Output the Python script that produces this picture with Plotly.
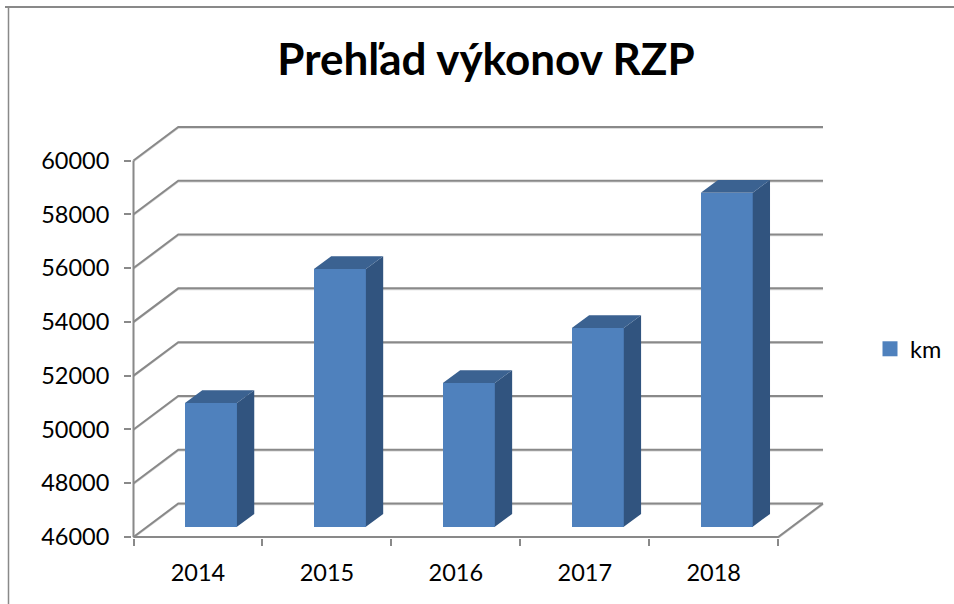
import plotly.graph_objects as go

# --- data ---
years = [2014, 2015, 2016, 2017, 2018]
km = [50600, 55580, 51340, 53390, 58420]
y_ticks = [46000, 48000, 50000, 52000, 54000, 56000, 58000, 60000]
title_text = "Prehľad výkonov RZP"
series_name = "km"

# --- geometry of the pseudo-3D look, in axis units ---
W, H = 954, 604
PX_X = 129.0            # pixels per category
PX_Y = 376.5 / 14000    # pixels per data unit
Y0, Y1 = y_ticks[0], y_ticks[-1]
X0, X1 = years[0] - 0.5, years[-1] + 0.5
BACK_X, BACK_Y = 44.8 / PX_X, 33.5 / PX_Y
FRONT_X, FRONT_Y = 13.0 / PX_X, 10.3 / PX_Y
SIDE_X, SIDE_Y = 17.3 / PX_X, 12.8 / PX_Y
BAR_W = 52.0 / PX_X
LEFT, RIGHT, TOP, BOTTOM = 132, 129, 125, 66
PAD_L, PAD_R = 1.5 / PX_X, 2 / PX_X
PAD_B, PAD_T = 1 / PX_Y, 2 / PX_Y
PLOT_W, PLOT_H = W - LEFT - RIGHT, H - TOP - BOTTOM
X_RANGE = [X0 - PAD_L, X1 + BACK_X + PAD_R]
Y_RANGE = [Y0 - PAD_B, Y1 + BACK_Y + PAD_T]

GRID = "#898989"
HALO = "#d4d4d4"
FRONT = "#4F81BD"
SIDE = "#31547F"
CAP = "#3B6291"
FONT = "Lato, Carlito, sans-serif"

fig = go.Figure()

# gridlines: along the left side wall and across the back wall
gx, gy = [], []
for v in y_ticks:
    gx += [X0, X0 + BACK_X, X1 + BACK_X, None]
    gy += [v, v + BACK_Y, v + BACK_Y, None]
# floor outline and axis line
gx += [X1 + BACK_X, X1, X0, None, X0, X0]
gy += [Y0 + BACK_Y, Y0, Y0, None, Y0, Y1]
hy = [None if y is None else y - 1.2 / PX_Y for y in gy]
fig.add_trace(go.Scatter(x=gx, y=hy, mode="lines", line=dict(color=HALO, width=1.2),
                         hoverinfo="skip", showlegend=False))
fig.add_trace(go.Scatter(x=gx, y=gy, mode="lines", line=dict(color=GRID, width=2),
                         hoverinfo="skip", showlegend=False))

# front faces, on an overlaying pair of axes so they cover the gridlines
base = Y0 + FRONT_Y
fig.add_trace(go.Bar(
    x=years, y=[v - Y0 for v in km], base=base, width=BAR_W,
    offset=-BAR_W / 2 + FRONT_X, xaxis="x2", yaxis="y2",
    marker=dict(color=FRONT, line=dict(width=0)), showlegend=False,
    customdata=km, hovertemplate="%{x}: %{customdata}<extra>km</extra>",
))

# side and top faces
sx, sy, cx, cy = [], [], [], []
for yr, v in zip(years, km):
    left = yr + FRONT_X - BAR_W / 2
    right = left + BAR_W
    top = v + FRONT_Y
    sx += [right, right + SIDE_X, right + SIDE_X, right, right, None]
    sy += [base, base + SIDE_Y, top + SIDE_Y, top, base, None]
    cx += [left, left + SIDE_X, right + SIDE_X, right, left, None]
    cy += [top, top + SIDE_Y, top + SIDE_Y, top, top, None]
fig.add_trace(go.Scatter(x=sx, y=sy, mode="lines", fill="toself", fillcolor=SIDE, xaxis="x2", yaxis="y2",
                         line=dict(width=0, color=SIDE), hoverinfo="skip", showlegend=False))
fig.add_trace(go.Scatter(x=cx, y=cy, mode="lines", fill="toself", fillcolor=CAP, xaxis="x2", yaxis="y2",
                         line=dict(width=0, color=CAP), hoverinfo="skip", showlegend=False))

# legend entry
fig.add_trace(go.Scatter(x=[None], y=[None], mode="markers", name=series_name,
                         marker=dict(symbol="square", size=15, color=FRONT)))

fig.update_layout(
    width=W, height=H, autosize=False,
    margin=dict(l=LEFT, r=RIGHT, t=TOP, b=BOTTOM, autoexpand=False),
    paper_bgcolor="white", plot_bgcolor="white",
    font=dict(family=FONT, color="#000000", size=23.5),
    title=dict(text=f"<b>{title_text}</b>", x=486 / W, xanchor="center",
               y=1 - 60 / H, yanchor="middle", font=dict(family=FONT, size=44, color="#000000")),
    showlegend=True,
    legend=dict(x=(870 - LEFT) / PLOT_W, xanchor="left", y=(H - BOTTOM - 349) / PLOT_H, yanchor="middle",
                bgcolor="rgba(0,0,0,0)", font=dict(family=FONT, size=23.5), itemwidth=30),
    bargap=0,
    xaxis=dict(
        range=X_RANGE, tickmode="array", tickvals=years, tickformat="d",
        showgrid=False, zeroline=False, showline=False, ticks="", ticklabelstandoff=18,
        minor=dict(tickmode="array", tickvals=[y - 0.5 for y in years] + [X1],
                   ticks="outside", ticklen=7, tickwidth=2, tickcolor=GRID, showgrid=False),
    ),
    yaxis=dict(
        range=Y_RANGE, tickmode="array", tickvals=y_ticks, tickformat="d",
        showgrid=False, zeroline=False, showline=False,
        ticks="outside", ticklen=7, tickwidth=2, tickcolor=GRID, ticklabelstandoff=10,
    ),
    xaxis2=dict(range=X_RANGE, overlaying="x", anchor="y2", visible=False),
    yaxis2=dict(range=Y_RANGE, overlaying="y", anchor="x2", visible=False),
    shapes=[
        dict(type="line", xref="paper", yref="paper", x0=(8.5 - LEFT) / PLOT_W, x1=(8.5 - LEFT) / PLOT_W,
             y0=(H - BOTTOM - 7) / PLOT_H, y1=-BOTTOM / PLOT_H,
             line=dict(color=GRID, width=1.5)),
        dict(type="line", xref="paper", yref="paper", x0=(5 - LEFT) / PLOT_W, x1=(W - LEFT) / PLOT_W,
             y0=(H - BOTTOM - 7) / PLOT_H, y1=(H - BOTTOM - 7) / PLOT_H,
             line=dict(color=GRID, width=2)),
    ],
)

fig.write_html("out.html", config=dict(displayModeBar=False),
               post_script="document.body.style.margin='0';document.body.style.overflow='hidden';")
